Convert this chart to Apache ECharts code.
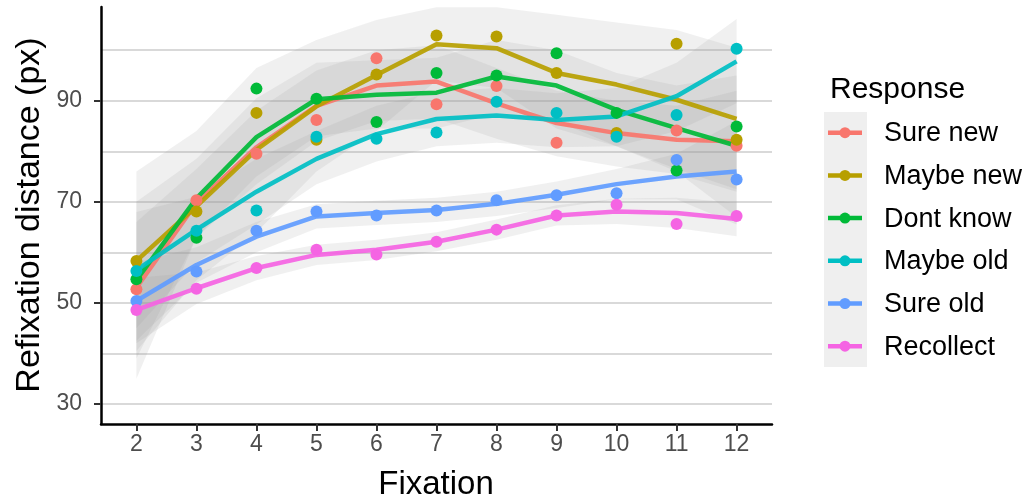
<!DOCTYPE html>
<html>
<head>
<meta charset="utf-8">
<script src="https://cdn.jsdelivr.net/npm/echarts@6/dist/echarts.min.js"></script>
<style>
  html, body { margin: 0; padding: 0; background: #ffffff; }
  #chart { width: 1030px; height: 504px; }
</style>
</head>
<body>
<div id="chart"></div>
<script>
// Fixation index on the x axis
const fixations = [2, 3, 4, 5, 6, 7, 8, 9, 10, 11, 12];
const responses = ['Sure new', 'Maybe new', 'Dont know', 'Maybe old', 'Sure old', 'Recollect'];
const colors = ['#F8766D', '#B79F00', '#00BA38', '#00BFC4', '#619CFF', '#F564E3'];

// Mean refixation distance per fixation (points)
const sureNewMean  = [52.7, 70.3, 79.5, 86.2, 98.4, 89.3, 92.9, 81.7, 83.2, 84.1, 81.1];
const maybeNewMean = [58.3, 68.1, 87.6, 82.3, 95.2, 102.9, 102.7, 95.5, 83.6, 101.3, 82.3];
const dontKnowMean = [54.7, 62.9, 92.4, 90.4, 85.8, 95.5, 95.0, 99.4, 87.6, 76.2, 84.9];
const maybeOldMean = [56.3, 64.3, 68.3, 82.9, 82.5, 83.7, 89.8, 87.6, 82.9, 87.2, 100.3];
const sureOldMean  = [50.4, 56.2, 64.3, 68.1, 67.3, 68.3, 70.3, 71.3, 71.7, 78.3, 74.4];
const recollMean   = [48.6, 52.8, 56.9, 60.5, 59.6, 62.1, 64.5, 67.3, 69.4, 65.6, 67.2];

// Smoothed fit (lines)
const sureNewFit  = [53.0, 69.8, 80.8, 89.0, 93.0, 93.8, 89.5, 85.6, 83.6, 82.3, 82.0];
const maybeNewFit = [58.3, 69.1, 80.3, 88.9, 95.1, 101.2, 100.4, 95.5, 93.2, 90.2, 86.4];
const dontKnowFit = [54.5, 70.7, 82.8, 90.3, 91.2, 91.6, 94.8, 93.0, 88.2, 84.6, 81.1];
const maybeOldFit = [56.5, 64.5, 72.0, 78.5, 83.4, 86.4, 87.1, 86.2, 86.9, 90.9, 97.8];
const sureOldFit  = [50.4, 57.5, 63.1, 67.1, 67.8, 68.4, 69.6, 71.4, 73.5, 75.0, 76.0];
const recollFit   = [48.6, 52.9, 56.9, 59.5, 60.5, 62.1, 64.5, 67.3, 68.1, 67.8, 66.6];

// Confidence band bounds (ribbons)
const sureNewLo  = [35.0, 63.0, 73.5, 82.0, 86.0, 86.5, 82.5, 79.0, 77.0, 75.5, 72.0];
const sureNewHi  = [66.0, 76.5, 88.0, 96.0, 100.0, 101.0, 96.5, 92.0, 90.0, 89.0, 92.0];
const maybeNewLo = [40.5, 54.5, 64.0, 76.0, 84.0, 94.0, 92.5, 84.5, 81.0, 76.5, 72.5];
const maybeNewHi = [76.0, 84.0, 96.5, 102.0, 106.0, 108.5, 108.5, 107.0, 105.5, 104.0, 100.5];
const dontKnowLo = [39.0, 63.0, 75.0, 83.0, 84.5, 84.5, 87.5, 86.0, 81.0, 76.0, 67.0];
const dontKnowHi = [70.0, 78.5, 90.5, 97.5, 98.0, 98.5, 102.0, 100.0, 95.5, 93.0, 95.0];
const maybeOldLo = [45.0, 58.0, 65.5, 73.5, 78.0, 81.0, 81.7, 80.8, 81.0, 84.0, 89.5];
const maybeOldHi = [68.0, 71.0, 78.5, 84.0, 89.0, 91.8, 92.5, 91.5, 92.5, 97.5, 106.2];
const sureOldLo  = [42.5, 54.0, 60.0, 64.7, 65.4, 66.0, 67.2, 68.8, 70.5, 70.5, 65.5];
const sureOldHi  = [58.0, 61.0, 66.0, 69.5, 70.2, 70.8, 72.0, 74.0, 76.5, 79.5, 86.0];
const recollLo   = [42.0, 49.8, 54.5, 57.5, 58.5, 60.2, 62.5, 65.3, 65.6, 64.8, 63.2];
const recollHi   = [55.0, 56.0, 59.3, 61.5, 62.5, 64.0, 66.5, 69.3, 70.6, 70.8, 69.8];

// Axis ticks and grid
const xTicks = [2, 3, 4, 5, 6, 7, 8, 9, 10, 11, 12];
const yTicks = [30, 50, 70, 90];
const yGrid = [30, 40, 50, 60, 70, 80, 90, 100];

const means = [sureNewMean, maybeNewMean, dontKnowMean, maybeOldMean, sureOldMean, recollMean];
const fits = [sureNewFit, maybeNewFit, dontKnowFit, maybeOldFit, sureOldFit, recollFit];
const lows = [sureNewLo, maybeNewLo, dontKnowLo, maybeOldLo, sureOldLo, recollLo];
const highs = [sureNewHi, maybeNewHi, dontKnowHi, maybeOldHi, sureOldHi, recollHi];

const FONT = '"Liberation Sans", Arial, sans-serif';

const series = [];

// panel grid lines, kept beneath everything else in the panel
series.push({
  type: 'line', data: [], z: 0, silent: true,
  markLine: {
    z: 0, silent: true, symbol: ['none', 'none'], animation: false,
    label: { show: false },
    lineStyle: { color: '#cccccc', width: 1.6, type: 'solid' },
    data: yGrid.map(v => ({ yAxis: v }))
  }
});

// confidence ribbons
responses.forEach((name, i) => {
  series.push({
    type: 'custom', name: name, z: 1, silent: true, clip: true,
    data: fixations.map((x, k) => [x, lows[i][k], highs[i][k]]),
    encode: { x: 0, y: [1, 2] },
    renderItem: function (params, api) {
      if (params.dataIndex !== 0) return;
      const upper = fixations.map((x, k) => api.coord([x, highs[i][k]]));
      const lower = fixations.map((x, k) => api.coord([x, lows[i][k]])).reverse();
      return {
        type: 'polygon',
        shape: { points: upper.concat(lower) },
        style: { fill: 'rgba(153,153,153,0.15)' }
      };
    }
  });
});

// fitted lines
responses.forEach((name, i) => {
  series.push({
    type: 'line', name: name, z: 2,
    data: fixations.map((x, k) => [x, fits[i][k]]),
    showSymbol: false, symbol: 'none',
    lineStyle: { color: colors[i], width: 4.5, opacity: 0.92 },
    itemStyle: { color: colors[i] }
  });
});

// observed means
responses.forEach((name, i) => {
  series.push({
    type: 'scatter', name: name, z: 3,
    data: fixations.map((x, k) => [x, means[i][k]]),
    symbol: 'circle', symbolSize: 12,
    itemStyle: { color: colors[i], opacity: 1 }
  });
});

// legend drawn as graphic elements
const legendTop = 132.7, legendStep = 42.7;
const legendItems = [];
legendItems.push({
  type: 'rect', shape: { x: 824, y: 112, width: 43, height: 255 },
  style: { fill: '#efefef' }, z: 10
});
responses.forEach((name, i) => {
  const cy = legendTop + i * legendStep;
  legendItems.push({
    type: 'line', shape: { x1: 828, y1: cy, x2: 862, y2: cy },
    style: { stroke: colors[i], lineWidth: 4.5 }, z: 11
  });
  legendItems.push({
    type: 'circle', shape: { cx: 845, cy: cy, r: 5.5 },
    style: { fill: colors[i] }, z: 12
  });
  legendItems.push({
    type: 'text', x: 884, y: cy + 1, z: 12,
    style: { text: name, fontFamily: FONT, fontSize: 27, fill: '#000000',
             textAlign: 'left', textVerticalAlign: 'middle' }
  });
});
legendItems.push({
  type: 'text', x: 830, y: 90, z: 12,
  style: { text: 'Response', fontFamily: FONT, fontSize: 30, fill: '#000000',
           textAlign: 'left', textVerticalAlign: 'middle' }
});
// axis titles
legendItems.push({
  type: 'text', x: 436, y: 485, z: 12,
  style: { text: 'Fixation', fontFamily: FONT, fontSize: 33, fill: '#000000',
           textAlign: 'center', textVerticalAlign: 'middle' }
});
legendItems.push({
  type: 'text', x: 30, y: 215, rotation: Math.PI / 2, z: 12,
  style: { text: 'Refixation distance (px)', fontFamily: FONT, fontSize: 34, fill: '#000000',
           textAlign: 'center', textVerticalAlign: 'middle' }
});

const chart = echarts.init(document.getElementById('chart'), null, { renderer: 'canvas' });
chart.setOption({
  animation: false,
  backgroundColor: '#ffffff',
  grid: { left: 101, right: 258, top: 7, bottom: 80, containLabel: false },
  xAxis: {
    type: 'value', min: 1.41, max: 12.59,
    axisLine: { show: true, onZero: false, lineStyle: { color: '#000000', width: 2.5 } },
    axisTick: { show: true, customValues: xTicks, length: 7, lineStyle: { color: '#333333', width: 2 } },
    axisLabel: { customValues: xTicks, color: '#4d4d4d', fontSize: 23, fontFamily: FONT, margin: 9 },
    splitLine: { show: false }
  },
  yAxis: {
    type: 'value', min: 26.04, max: 108.55,
    axisLine: { show: true, onZero: false, lineStyle: { color: '#000000', width: 2.5 } },
    axisTick: { show: true, customValues: yTicks, length: 7, lineStyle: { color: '#333333', width: 2 } },
    axisLabel: { customValues: yTicks, color: '#4d4d4d', fontSize: 23, fontFamily: FONT, margin: 19 },
    splitLine: { show: false }
  },
  graphic: legendItems,
  series: series
});
</script>
</body>
</html>
